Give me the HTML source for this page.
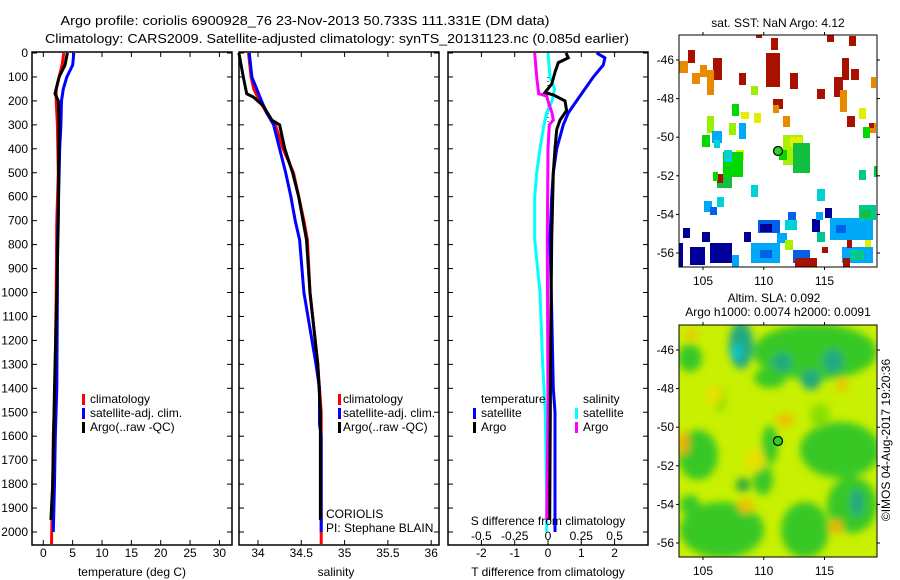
<!DOCTYPE html>
<html><head><meta charset="utf-8"><style>
html,body{margin:0;padding:0;background:#fff;}
svg{display:block;font-family:"Liberation Sans",sans-serif;}
</style></head><body>
<svg id="fig" width="900" height="580" viewBox="0 0 900 580">
<defs><filter id="blur" x="-20%" y="-20%" width="140%" height="140%"><feGaussianBlur stdDeviation="4"/></filter>
<clipPath id="clipSla"><rect x="679" y="325" width="198" height="232"/></clipPath>
<clipPath id="clipSst"><rect x="679" y="35" width="198" height="232"/></clipPath></defs>
<g font-size="13" fill="#000">
<text x="305" y="25" text-anchor="middle" textLength="489" lengthAdjust="spacingAndGlyphs">Argo profile: coriolis 6900928_76 23-Nov-2013 50.733S 111.331E (DM data)</text>
<text x="337" y="43" text-anchor="middle" textLength="584" lengthAdjust="spacingAndGlyphs">Climatology: CARS2009. Satellite-adjusted climatology: synTS_20131123.nc (0.085d earlier)</text>
</g>
<g id="panels"></g>
<g id="maps"></g>
<text transform="translate(890,440) rotate(-90)" text-anchor="middle" font-size="12">©IMOS 04-Aug-2017 19:20:36</text>
</svg>
<script>
// ---------- data ----------
const depthTicks=[0,100,200,300,400,500,600,700,800,900,1000,1100,1200,1300,1400,1500,1600,1700,1800,1900,2000];
const tTicks=[0,5,10,15,20,25,30];
const sTicks=[34,34.5,35,35.5,36];
const dTTicks=[-2,-1,0,1,2];
const dSTicks=[-0.5,-0.25,0,0.25,0.5];
const dSTickLabels=["-0.5","-0.25","0","0.25","0.5"];

const tClimDepth=[0,50,100,150,200,300,500,700,1000,1400,1600,1800,2050];
const tClim=[3.5,3.2,2.7,2.2,2.2,2.4,2.55,2.3,2.2,2.0,1.7,1.6,1.4];
const tSatDepth=[0,50,100,150,200,300,400,600,800,1000,1400,1600,1800,2000];
const tSat=[5.2,5.0,4.0,3.4,3.1,3.0,2.8,2.6,2.4,2.4,2.3,2.05,1.9,1.7];
const tArgoDepth=[0,50,100,170,200,300,500,700,1000,1400,1800,1950];
const tArgo=[4.1,3.7,2.7,2.0,2.55,2.7,2.6,2.55,2.3,1.9,1.6,1.3];

const sClimDepth=[0,100,150,200,250,300,400,500,600,700,780,1000,1300,1500,2050];
const sClim=[33.89,33.92,33.95,34.02,34.1,34.2,34.29,34.41,34.47,34.53,34.57,34.6,34.69,34.73,34.73];
const sSatDepth=[0,100,200,250,300,400,500,600,700,780,1000,1300,1400,1550,1600,2000];
const sSat=[33.9,33.93,34.04,34.1,34.18,34.25,34.32,34.38,34.43,34.48,34.53,34.67,34.71,34.71,34.73,34.73];
const sArgoDepth=[0,100,170,185,220,280,300,400,500,600,700,780,1000,1300,1500,1950];
const sArgo=[33.78,33.83,33.87,33.95,34.06,34.16,34.25,34.31,34.4,34.47,34.52,34.56,34.6,34.69,34.72,34.72];

const dTSatDepth=[0,20,50,100,150,200,250,300,400,500,600,780,1000,1400,1500,2000];
const dTSat=[1.46,1.71,1.66,1.36,1.11,0.86,0.61,0.46,0.26,0.16,0.11,0.06,0.1,0.16,0.21,0.21];
const dTArgoDepth=[0,20,40,80,130,165,175,200,240,280,320,400,500,780,1200,1950];
const dTArgo=[0.54,0.61,0.31,0.21,0.11,-0.09,0.16,0.51,0.56,0.36,0.26,0.21,0.16,0.11,0.08,0.05];
const dSSatDepth=[0,100,150,200,250,300,400,500,600,780,1000,1300,1500,1900,2000];
const dSSat=[0.0,0.015,0.05,0.03,-0.01,-0.03,-0.06,-0.085,-0.1,-0.1,-0.06,-0.04,-0.02,-0.01,-0.01];
const dSArgoDepth=[0,100,170,180,200,250,280,300,400,780,1500,1950];
const dSArgo=[-0.1,-0.085,-0.07,-0.01,0.0,0.03,0.04,0.01,0.0,-0.005,0.0,-0.01];

// ---------- helpers ----------
const NS="http://www.w3.org/2000/svg";
function mk(tag,attrs,parent,text){const e=document.createElementNS(NS,tag);for(const k in attrs)e.setAttribute(k,attrs[k]);if(text!==undefined)e.textContent=text;parent.appendChild(e);return e;}
const yTop=53, yPerM=0.2395, panelTop=52, panelBot=545;
function yD(d){return yTop+d*yPerM;}
const xT=v=>43.3+v*5.87;
const xS=v=>258+(v-34)*86.6;
const xDT=v=>548+v*33.3;
const xDS=v=>548+v*133.2;
const panels=document.getElementById('panels');

function frame(x0,x1,name){
  const r=mk('rect',{x:x0,y:panelTop,width:x1-x0,height:panelBot-panelTop,fill:'none',stroke:'#000','stroke-width':1.5},panels);
  
  
}
function profile(depths,vals,xf,color,name){
  const p2=depths.map((d,i)=>xf(vals[i]).toFixed(1)+','+yD(d).toFixed(1)).join(' ');
  const pl=mk('polyline',{points:p2,fill:'none',stroke:color,'stroke-width':3,'stroke-linejoin':'miter'},panels);
  
  
}
function xticks(vals,xf,labels,ly,name){
  vals.forEach((v,i)=>{
    const x=xf(v);
    mk('line',{x1:x,x2:x,y1:panelTop,y2:panelTop+5,stroke:'#000'},panels);
    mk('line',{x1:x,x2:x,y1:panelBot,y2:panelBot-5,stroke:'#000'},panels);
    if(ly){const t=mk('text',{x:x,y:ly,'text-anchor':'middle','font-size':12},panels,labels?labels[i]:String(v));
    
    }
  });
}
function yticks(x0,x1,labels){
  depthTicks.forEach(d=>{
    const y=yD(d);
    mk('line',{x1:x0,x2:x0+5,y1:y,y2:y,stroke:'#000'},panels);
    mk('line',{x1:x1,x2:x1-5,y1:y,y2:y,stroke:'#000'},panels);
    if(labels){const t=mk('text',{x:28,y:y+4,'text-anchor':'end','font-size':12},panels,String(d));
    
    }
  });
}
function label(x,y,s,name,anchor,size){
  const t=mk('text',{x:x,y:y,'text-anchor':anchor||'start','font-size':size||12},panels,s);
  
  
}
function marker(x,y,color,name){
  const r=mk('rect',{x:x,y:y-9,width:3,height:11,fill:color},panels);
  
  
}

// panel 1: temperature
frame(32,232,'temperature-panel');
yticks(32,232,true);
xticks(tTicks,xT,null,557,'temperature-tick-label');
profile(tClimDepth,tClim,xT,'#f00','temperature-climatology-line');
profile(tSatDepth,tSat,xT,'#00f','temperature-satellite-line');
profile(tArgoDepth,tArgo,xT,'#000','temperature-argo-line');
label(132,576,'temperature (deg C)','temperature-axis-title','middle');
marker(82,403,'#f00','legend-climatology-marker');label(90,403,'climatology','legend-climatology');
marker(82,417,'#00f','legend-satellite-marker');label(90,417,'satellite-adj. clim.','legend-satellite');
marker(82,431,'#000','legend-argo-marker');label(90,431,'Argo(..raw -QC)','legend-argo');

// panel 2: salinity
frame(239,439,'salinity-panel');
yticks(239,439,false);
xticks(sTicks,xS,null,557,'salinity-tick-label');
profile(sClimDepth,sClim,xS,'#f00','salinity-climatology-line');
profile(sSatDepth,sSat,xS,'#00f','salinity-satellite-line');
profile(sArgoDepth,sArgo,xS,'#000','salinity-argo-line');
label(336,576,'salinity','salinity-axis-title','middle');
marker(338,403,'#f00','legend-climatology-marker');label(343,403,'climatology','legend-climatology');
marker(338,417,'#00f','legend-satellite-marker');label(343,417,'satellite-adj. clim.','legend-satellite');
marker(338,431,'#000','legend-argo-marker');label(343,431,'Argo(..raw -QC)','legend-argo');
label(326,518,'CORIOLIS','data-centre-label');
label(326,532,'PI: Stephane BLAIN','pi-label');

// panel 3: differences
frame(448,648,'difference-panel');
yticks(448,648,false);
xticks(dTTicks,xDT,null,557,'t-difference-tick-label');
dSTicks.forEach((v,i)=>label(xDS(v),540,dSTickLabels[i],'s-difference-tick-label','middle'));
mk('line',{x1:548,x2:548,y1:yD(100),y2:yD(300),stroke:'#000','stroke-dasharray':'1,3'},panels);
profile(dSSatDepth,dSSat,xDS,'#0ff','s-difference-satellite-line');
profile(dSArgoDepth,dSArgo,xDS,'#f0f','s-difference-argo-line');
profile(dTSatDepth,dTSat,xDT,'#00f','t-difference-satellite-line');
profile(dTArgoDepth,dTArgo,xDT,'#000','t-difference-argo-line');
label(548,525,'S difference from climatology','s-difference-axis-title','middle');
label(548,576,'T difference from climatology','t-difference-axis-title','middle');
label(481,403,'temperature','legend-temperature-heading');
label(583,403,'salinity','legend-salinity-heading');
marker(473,417,'#00f','legend-t-satellite-marker');label(481,417,'satellite','legend-t-satellite');
marker(473,431,'#000','legend-t-argo-marker');label(481,431,'Argo','legend-t-argo');
marker(575,417,'#0ff','legend-s-satellite-marker');label(583,417,'satellite','legend-s-satellite');
marker(575,431,'#f0f','legend-s-argo-marker');label(583,431,'Argo','legend-s-argo');

// ---------- maps ----------
const maps=document.getElementById('maps');
const C={dr:'#a81000',or:'#e88a00',yg:'#98f000',ye:'#e0f000',gr:'#00d800',lg:'#a8f000',dg:'#10c040',tl:'#00c890',cy:'#00d0d8',lb:'#00a8f8',bl:'#0060e8',nv:'#000098'};
const sstCells=[
['dr',756,33,6,5],['dr',771,38,7,12],['dr',766,53,14,34],['dr',739,73,7,12],['dr',790,73,8,16],['dr',688,50,7,13],['dr',713,58,9,22],['or',707,70,7,25],['dr',827,33,7,9],['dr',849,36,7,10],['dr',842,58,7,22],['dr',851,69,8,11],['dr',834,77,9,20],['or',840,90,7,22],['dr',817,89,8,10],['dr',773,99,10,10],['or',773,105,6,8],['dr',847,116,8,11],
['or',679,61,9,12],['or',692,73,8,11],['or',700,65,7,12],['or',783,116,7,11],['or',871,77,5,11],['or',869,123,7,10],['dr',869,123,5,5],
['yg',751,86,7,9],['yg',707,116,7,17],['yg',729,123,7,12],['ye',754,113,7,10],['ye',741,112,8,7],['ye',859,108,7,11],['ye',736,150,8,10],
['gr',732,104,7,12],['gr',702,135,8,12],['gr',723,152,20,25],['gr',863,127,7,11],['dg',717,177,15,11],['dr',717,174,6,9],['gr',713,172,5,9],
['lg',783,135,20,30],['ye',790,137,12,10],['dg',793,143,17,30],['gr',779,150,8,10],['tl',859,170,7,10],['dg',874,166,3,11],
['lb',712,131,10,12],['cy',714,140,6,8],['lb',739,123,7,16],['cy',724,150,8,12],['cy',751,185,7,12],['cy',817,189,8,12],['cy',717,197,7,10],['lb',704,201,8,11],['bl',710,207,7,8],
['nv',683,228,7,10],['nv',702,232,8,10],['nv',744,232,7,10],['nv',825,208,7,10],['nv',812,219,8,13],['nv',679,243,4,24],['nv',690,247,15,18],['nv',710,243,22,20],['bl',758,220,22,13],['nv',760,224,12,8],
['bl',788,212,8,11],['bl',793,250,17,13],['lb',816,212,7,8],['lb',751,243,29,20],['bl',760,250,12,8],['lb',777,233,10,10],['lb',732,255,7,12],['lb',830,218,43,22],['bl',836,225,10,8],['lb',842,247,31,16],['tl',859,205,17,15],['dg',861,210,10,8],['tl',817,232,8,10],['lg',785,240,8,10],
['dr',795,258,22,9],['dr',822,247,6,6],['dr',843,258,7,9],['dr',847,240,5,8],['ye',865,240,6,7],['tl',850,250,14,10],['cy',785,220,12,10]
];
const g1=mk('g',{'clip-path':'url(#clipSst)'},maps);


sstCells.forEach(c=>mk('rect',{x:c[1],y:c[2],width:c[3],height:c[4],fill:C[c[0]]},g1));

const slaBlobs=[
['#38c828',815,352,62,28],['#38c828',690,358,12,14],['#20a880',741,345,12,24],['#00c8d8',737,352,5,8],['#20a880',782,363,10,10],['#20a880',811,380,10,10],['#20a880',833,361,10,12],
['#38c828',698,455,20,25],['#38c828',722,530,42,28],['#38c828',840,450,40,28],['#38c828',852,505,25,28],['#20a880',857,503,7,14],['#38c828',805,530,24,28],['#28a840',743,485,7,7],
['#38c828',770,378,16,10],['#38c828',770,445,8,20],['#88e000',720,400,6,12],['#38c828',763,480,10,15],['#88e000',820,415,10,12],['#38c828',690,505,10,10],
['#f0a800',684,443,5,12],['#f0c000',746,506,8,7],['#f0c000',785,420,9,7],['#f0c000',842,385,6,6],['#f0b000',836,527,7,7],['#f0c000',692,335,6,5],['#e8e000',755,460,10,12],['#e8e000',714,395,8,10]
];
const g2=mk('g',{'clip-path':'url(#clipSla)'},maps);


mk('rect',{x:679,y:325,width:198,height:232,fill:'#c8f000'},g2);
const gb=mk('g',{filter:'url(#blur)'},g2);
slaBlobs.forEach(b=>mk('ellipse',{cx:b[1],cy:b[2],rx:b[3],ry:b[4],fill:b[0]},gb));

function mapFrame(y0,name){
  const r=mk('rect',{x:679,y:y0,width:198,height:232,fill:'none',stroke:'#000','stroke-width':1},maps);
  
  
  [105,110,115].forEach(lon=>{const x=703+(lon-105)*12.15;
    mk('line',{x1:x,x2:x,y1:y0-3,y2:y0,stroke:'#000'},maps);
    mk('line',{x1:x,x2:x,y1:y0+232,y2:y0+235,stroke:'#000'},maps);
    const t=mk('text',{x:x,y:y0+250,'text-anchor':'middle','font-size':12},maps,String(lon));
    
    });
  [-46,-48,-50,-52,-54,-56].forEach(lat=>{const y=y0+25+(-46-lat)*19.3;
    mk('line',{x1:676,x2:679,y1:y,y2:y,stroke:'#000'},maps);
    mk('line',{x1:877,x2:880,y1:y,y2:y,stroke:'#000'},maps);
    const t=mk('text',{x:674,y:y+4,'text-anchor':'end','font-size':12},maps,String(lat));
    
    });
}
mapFrame(35,'sst-map');
mapFrame(325,'sla-map');
[[778,151],[778,441]].forEach(p=>{const c=mk('circle',{cx:p[0],cy:p[1],r:4.5,fill:'#30d020',stroke:'#000','stroke-width':1.2},maps);

});
function mtext(x,y,s,name){const t=mk('text',{x:x,y:y,'text-anchor':'middle','font-size':12},maps,s);}
mtext(778,27,'sat. SST: NaN Argo: 4.12','sst-map-title');
mtext(774,302,'Altim. SLA: 0.092','sla-map-title');
mtext(778,316,'Argo h1000: 0.0074 h2000: 0.0091','sla-map-subtitle');
</script>
</body></html>
